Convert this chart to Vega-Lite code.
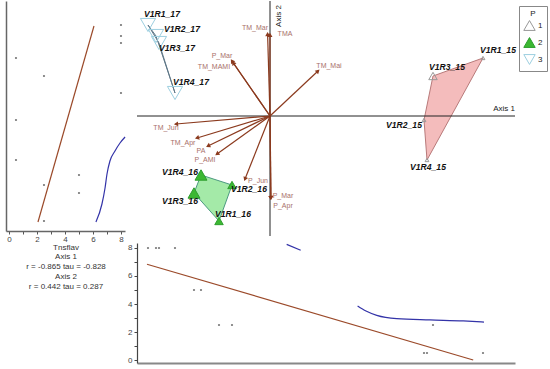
{
  "$schema": "https://vega.github.io/schema/vega-lite/v6.json",
  "background": "white",
  "padding": {"left": 6, "top": 0, "right": 0, "bottom": 0},
  "config": {
    "view": {"stroke": null},
    "font": "Liberation Sans",
    "axis": {"labelOverlap": false},
    "legend": {"symbolStrokeWidth": 1, "symbolSize": 130, "labelFontSize": 8, "titleFontSize": 8, "titleFontWeight": "normal", "padding": 4, "strokeColor": "#888", "rowPadding": 2, "labelOffset": 2, "titlePadding": 1, "labelColor": "#222", "titleColor": "#222"}
  },
  "datasets": {
    "sites": [
      {"id": "V1R1_15", "P": "1", "a1": 5.325, "a2": 1.45, "T": 0.5, "ord": 1, "la1": 5.7, "la2": 1.65},
      {"id": "V1R3_15", "P": "1", "a1": 4.075, "a2": 1.0, "T": 2.5, "ord": 2, "la1": 4.425, "la2": 1.225},
      {"id": "V1R2_15", "P": "1", "a1": 3.85, "a2": -0.1, "T": 0.5, "ord": 3, "la1": 3.35, "la2": -0.225},
      {"id": "V1R4_15", "P": "1", "a1": 3.925, "a2": -1.1, "T": 0.5, "ord": 4, "la1": 3.95, "la2": -1.275},
      {"id": "V1R4_16", "P": "2", "a1": -1.725, "a2": -1.475, "T": 5, "ord": 1, "la1": -2.25, "la2": -1.4},
      {"id": "V1R2_16", "P": "2", "a1": -0.95, "a2": -1.725, "T": 2.5, "ord": 2, "la1": -0.525, "la2": -1.825},
      {"id": "V1R1_16", "P": "2", "a1": -1.275, "a2": -2.625, "T": 2.5, "ord": 3, "la1": -0.925, "la2": -2.45},
      {"id": "V1R3_16", "P": "2", "a1": -1.9, "a2": -1.925, "T": 5, "ord": 4, "la1": -2.25, "la2": -2.125},
      {"id": "V1R1_17", "P": "3", "a1": -3.05, "a2": 2.275, "T": 8, "ord": 1, "la1": -2.7, "la2": 2.55},
      {"id": "V1R2_17", "P": "3", "a1": -2.85, "a2": 2.0, "T": 8, "ord": 2, "la1": -2.2, "la2": 2.175},
      {"id": "V1R4_17", "P": "3", "a1": -2.375, "a2": 0.575, "T": 8, "ord": 3, "la1": -1.975, "la2": 0.85},
      {"id": "V1R3_17", "P": "3", "a1": -2.775, "a2": 1.825, "T": 8, "ord": 4, "la1": -2.325, "la2": 1.7}
    ],
    "vectors": [
      {"v": "TM_Mar", "a1": -0.06, "a2": 2.05, "la1": -0.375, "la2": 2.2},
      {"v": "TMA", "a1": 0.0, "a2": 2.03, "la1": 0.375, "la2": 2.05},
      {"v": "P_Mar", "a1": -0.95, "a2": 1.375, "la1": -1.2, "la2": 1.5},
      {"v": "TM_MAMI", "a1": -0.92, "a2": 1.33, "la1": -1.4, "la2": 1.225},
      {"v": "TM_Mai", "a1": 1.2, "a2": 1.125, "la1": 1.475, "la2": 1.25},
      {"v": "TM_Jun", "a1": -2.35, "a2": -0.2, "la1": -2.6, "la2": -0.3},
      {"v": "TM_Apr", "a1": -1.825, "a2": -0.55, "la1": -2.175, "la2": -0.675},
      {"v": "PA", "a1": -1.55, "a2": -0.75, "la1": -1.725, "la2": -0.875},
      {"v": "P_AMI", "a1": -1.325, "a2": -0.95, "la1": -1.625, "la2": -1.1},
      {"v": "P_Jun", "a1": -0.625, "a2": -1.575, "la1": -0.3, "la2": -1.625},
      {"v": "P_Mar", "a1": 0.025, "a2": -2.05, "la1": 0.325, "la2": -2.0},
      {"v": "P_Apr", "a1": 0.02, "a2": -2.05, "la1": 0.325, "la2": -2.25}
    ],
    "axes": [
      {"name": "Axis 1", "x1": -3.325, "x2": 6.125, "y1": 0, "y2": 0, "lx": 6.125, "ly": 0.175},
      {"name": "Axis 2", "x1": 0, "x2": 0, "y1": -3.0, "y2": 2.875, "lx": 0.225, "ly": 2.5}
    ],
    "leftLine": [{"x": 2.07, "y": -2.65}, {"x": 6.07, "y": 2.25}],
    "leftCurve": [
      {"x": 6.21, "y": -2.65}, {"x": 6.64, "y": -2.2}, {"x": 6.86, "y": -1.8}, {"x": 7.0, "y": -1.45},
      {"x": 7.21, "y": -1.125}, {"x": 7.57, "y": -0.875}, {"x": 7.93, "y": -0.675}, {"x": 8.29, "y": -0.525}
    ],
    "bottomLine": [{"x": -3.075, "y": 6.84}, {"x": 5.08, "y": 0}],
    "bottomCurve": [
      {"seg": "a", "x": 0.417, "y": 8.26}, {"seg": "a", "x": 0.767, "y": 7.84},
      {"seg": "b", "x": 2.19, "y": 3.86}, {"seg": "b", "x": 2.4, "y": 3.5}, {"seg": "b", "x": 2.67, "y": 3.19},
      {"seg": "b", "x": 3.17, "y": 2.95}, {"seg": "b", "x": 4.0, "y": 2.86}, {"seg": "b", "x": 4.83, "y": 2.79},
      {"seg": "b", "x": 5.35, "y": 2.71}
    ]
  },
  "spacing": 12,
  "bounds": "flush",
  "resolve": {"scale": {"shape": "independent", "fill": "independent", "stroke": "independent", "size": "independent"}},
  "hconcat": [
    {
      "width": 119,
      "height": 230,
      "layer": [
        {
          "data": {"name": "sites"},
          "mark": {"type": "circle", "size": 5, "color": "#777", "opacity": 1},
          "encoding": {
            "x": {"field": "T", "type": "quantitative", "scale": {"domain": [-0.214, 8.286], "nice": false, "zero": false},
              "axis": {"values": [0, 1, 2, 3, 4, 5, 6, 7, 8], "tickCount": 20, "format": "d", "labelExpr": "datum.value % 2 === 0 ? datum.label : ''", "labelOverlap": false, "grid": false, "tickSize": 3, "tickColor": "#555", "domainColor": "#666", "domainWidth": 1.5, "labelFontSize": 8, "labelColor": "#444", "labelPadding": 1,
                "title": ["Tnsflav", "Axis 1", "r = -0.865 tau = -0.828", "Axis 2", "r = 0.442 tau =  0.287"], "titleFontSize": 8, "titleFontWeight": "normal", "titleColor": "#333", "titlePadding": 0, "titleLineHeight": 9.8}},
            "y": {"field": "a2", "type": "quantitative", "scale": {"domain": [-2.875, 2.875], "nice": false, "zero": false},
              "axis": {"ticks": false, "labels": false, "grid": false, "title": null, "domainColor": "#666", "domainWidth": 1.5}}
          }
        },
        {
          "data": {"name": "leftLine"},
          "mark": {"type": "line", "color": "#9b4a2a", "strokeWidth": 1.2},
          "encoding": {"x": {"field": "x", "type": "quantitative"}, "y": {"field": "y", "type": "quantitative"}}
        },
        {
          "data": {"name": "leftCurve"},
          "mark": {"type": "line", "color": "#3333a8", "strokeWidth": 1.2, "interpolate": "monotone"},
          "encoding": {"x": {"field": "x", "type": "quantitative"}, "y": {"field": "y", "type": "quantitative"}}
        }
      ]
    },
    {
      "spacing": 6,
      "bounds": "flush",
      "resolve": {"scale": {"shape": "independent", "fill": "independent", "stroke": "independent", "size": "independent"}},
      "vconcat": [
        {
          "width": 411,
          "height": 236,
          "layer": [
            {
              "data": {"name": "sites"},
              "transform": [{"filter": "datum.P === '1'"}],
              "mark": {"type": "line", "interpolate": "linear-closed", "fill": "#f4bcbc", "stroke": "#b87a7a", "strokeWidth": 1},
              "encoding": {
                "x": {"field": "a1", "type": "quantitative", "scale": {"domain": [-3.325, 6.95], "nice": false, "zero": false}, "axis": null},
                "y": {"field": "a2", "type": "quantitative", "scale": {"domain": [-3.025, 2.875], "nice": false, "zero": false}, "axis": null},
                "order": {"field": "ord"}
              }
            },
            {
              "data": {"name": "sites"},
              "transform": [{"filter": "datum.P === '2'"}],
              "mark": {"type": "line", "interpolate": "linear-closed", "fill": "#a4eaa8", "stroke": "#4c9a80", "strokeWidth": 1},
              "encoding": {
                "x": {"field": "a1", "type": "quantitative"},
                "y": {"field": "a2", "type": "quantitative"},
                "order": {"field": "ord"}
              }
            },
            {
              "data": {"name": "sites"},
              "transform": [{"filter": "datum.P === '3'"}],
              "mark": {"type": "line", "interpolate": "linear-closed", "fill": "#d6eef4", "stroke": "#607888", "strokeWidth": 1},
              "encoding": {
                "x": {"field": "a1", "type": "quantitative"},
                "y": {"field": "a2", "type": "quantitative"},
                "order": {"field": "ord"}
              }
            },
            {
              "data": {"name": "axes"},
              "mark": {"type": "rule", "color": "#222", "strokeWidth": 1},
              "encoding": {
                "x": {"field": "x1", "type": "quantitative"},
                "x2": {"field": "x2"},
                "y": {"field": "y1", "type": "quantitative"},
                "y2": {"field": "y2"}
              }
            },
            {
              "data": {"name": "axes"},
              "transform": [{"filter": "datum.name === 'Axis 1'"}],
              "mark": {"type": "text", "fontSize": 8, "color": "#222", "align": "right", "baseline": "middle"},
              "encoding": {
                "x": {"field": "lx", "type": "quantitative"},
                "y": {"field": "ly", "type": "quantitative"},
                "text": {"field": "name"}
              }
            },
            {
              "data": {"name": "axes"},
              "transform": [{"filter": "datum.name === 'Axis 2'"}],
              "mark": {"type": "text", "fontSize": 8, "color": "#222", "align": "center", "baseline": "middle", "angle": 270},
              "encoding": {
                "x": {"field": "lx", "type": "quantitative"},
                "y": {"field": "ly", "type": "quantitative"},
                "text": {"field": "name"}
              }
            },
            {
              "data": {"name": "vectors"},
              "mark": {"type": "rule", "color": "#8b3a1e", "strokeWidth": 1.2},
              "encoding": {
                "x": {"field": "a1", "type": "quantitative"},
                "y": {"field": "a2", "type": "quantitative"},
                "x2": {"datum": 0},
                "y2": {"datum": 0}
              }
            },
            {
              "data": {"name": "vectors"},
              "transform": [{"calculate": "90 - atan2(datum.a2, datum.a1) * 180 / PI", "as": "ang"}],
              "mark": {"type": "point", "shape": "triangle-up", "filled": true, "size": 24, "color": "#8b3a1e", "opacity": 1},
              "encoding": {
                "x": {"field": "a1", "type": "quantitative"},
                "y": {"field": "a2", "type": "quantitative"},
                "angle": {"field": "ang", "type": "quantitative", "scale": null}
              }
            },
            {
              "data": {"name": "vectors"},
              "mark": {"type": "text", "fontSize": 7, "color": "#a8706a", "align": "center", "baseline": "middle"},
              "encoding": {
                "x": {"field": "la1", "type": "quantitative"},
                "y": {"field": "la2", "type": "quantitative"},
                "text": {"field": "v"}
              }
            },
            {
              "data": {"name": "sites"},
              "mark": {"type": "point", "strokeWidth": 1, "opacity": 1},
              "encoding": {
                "x": {"field": "a1", "type": "quantitative"},
                "y": {"field": "a2", "type": "quantitative"},
                "size": {"field": "T", "type": "quantitative", "scale": {"domain": [0, 8], "range": [0, 230]}, "legend": null},
                "shape": {"field": "P", "type": "nominal", "scale": {"domain": ["1", "2", "3"], "range": ["triangle-up", "triangle-up", "triangle-down"]},
                  "legend": {"title": "P", "orient": "none", "legendX": 382, "legendY": 5, "titleAnchor": "middle"}},
                "fill": {"field": "P", "type": "nominal", "scale": {"domain": ["1", "2", "3"], "range": ["rgba(255,255,255,0)", "#3cb832", "rgba(255,255,255,0)"]},
                  "legend": {"title": "P", "orient": "none", "legendX": 382, "legendY": 5, "titleAnchor": "middle"}},
                "stroke": {"field": "P", "type": "nominal", "scale": {"domain": ["1", "2", "3"], "range": ["#999999", "#2e9e2e", "#9ccfe0"]},
                  "legend": {"title": "P", "orient": "none", "legendX": 382, "legendY": 5, "titleAnchor": "middle"}}
              }
            },
            {
              "data": {"name": "sites"},
              "mark": {"type": "text", "fontSize": 8.6, "fontWeight": "bold", "fontStyle": "italic", "color": "#111", "align": "center", "baseline": "middle"},
              "encoding": {
                "x": {"field": "la1", "type": "quantitative"},
                "y": {"field": "la2", "type": "quantitative"},
                "text": {"field": "id"}
              }
            }
          ]
        },
        {
          "width": 378,
          "height": 120,
          "layer": [
            {
              "data": {"name": "sites"},
              "mark": {"type": "circle", "size": 5, "color": "#777", "opacity": 1},
              "encoding": {
                "x": {"field": "a1", "type": "quantitative", "scale": {"domain": [-3.325, 6.125], "nice": false, "zero": false},
                  "axis": {"ticks": false, "labels": false, "grid": false, "title": null, "domainColor": "#888", "domainWidth": 2}},
                "y": {"field": "T", "type": "quantitative", "scale": {"domain": [-0.214, 8.357], "nice": false, "zero": false},
                  "axis": {"values": [0, 1, 2, 3, 4, 5, 6, 7, 8], "tickCount": 20, "format": "d", "labelExpr": "datum.value % 2 === 0 ? datum.label : ''", "labelOverlap": false, "grid": false, "tickSize": 3, "tickColor": "#444", "domainColor": "#444", "domainWidth": 1.2, "labelFontSize": 8, "labelColor": "#444", "labelPadding": 2, "title": null}}
              }
            },
            {
              "data": {"name": "bottomLine"},
              "mark": {"type": "line", "color": "#9b4a2a", "strokeWidth": 1.2},
              "encoding": {"x": {"field": "x", "type": "quantitative"}, "y": {"field": "y", "type": "quantitative"}}
            },
            {
              "data": {"name": "bottomCurve"},
              "mark": {"type": "line", "color": "#3333a8", "strokeWidth": 1.2, "interpolate": "monotone"},
              "encoding": {"x": {"field": "x", "type": "quantitative"}, "y": {"field": "y", "type": "quantitative"}, "detail": {"field": "seg"}}
            }
          ]
        }
      ]
    }
  ]
}
